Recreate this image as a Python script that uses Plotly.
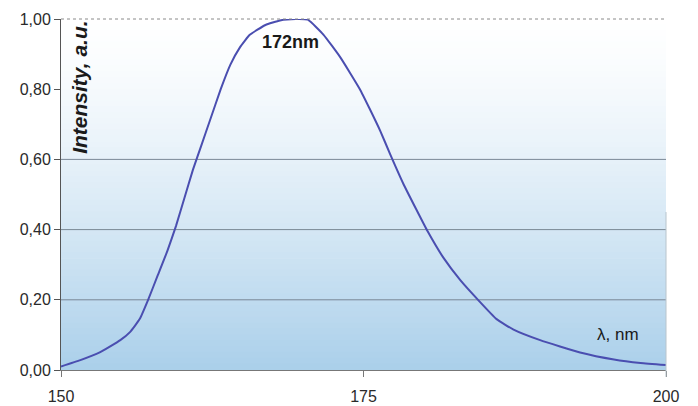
import plotly.graph_objects as go

# wavelength (nm) and normalized intensity
wavelength = [150.0, 151.6, 153.2, 154.9, 155.7, 156.5, 157.2, 158.0, 158.8, 159.5,
              160.2, 160.9, 161.6, 162.3, 163.2, 164.0, 164.8, 165.6, 166.9, 168.1,
              169.4, 170.4, 171.7, 173.1, 174.7, 175.5, 176.4, 177.2, 178.3, 179.4,
              180.3, 181.6, 183.0, 184.6, 186.0, 187.4, 189.6, 192.9, 195.7, 197.9,
              200.0]
intensity = [0.010, 0.028, 0.050, 0.085, 0.108, 0.145, 0.200, 0.270, 0.340, 0.410,
             0.490, 0.570, 0.640, 0.710, 0.800, 0.870, 0.920, 0.955, 0.983, 0.996,
             1.000, 0.998, 0.955, 0.890, 0.800, 0.745, 0.680, 0.615, 0.530, 0.455,
             0.395, 0.320, 0.256, 0.195, 0.145, 0.115, 0.085, 0.050, 0.030, 0.020,
             0.014]

x_ticks = [150, 175, 200]
y_ticks = [0.0, 0.2, 0.4, 0.6, 0.8, 1.0]
grid_values = [0.2, 0.4, 0.6]

peak_label = "172nm"
x_label = "λ, nm"
y_label = "Intensity, a.u."

fig = go.Figure()

# vertical gradient background (white top -> light blue bottom)
n = 60
top = (255, 255, 255)
bot = (170, 207, 234)
shapes = []
for i in range(n):
    t = ((i + 0.5) / n) ** 1.35  # 0 top .. 1 bottom
    c = tuple(int(round(top[k] + (bot[k] - top[k]) * t)) for k in range(3))
    y1 = 1 - i / n
    y0 = 1 - (i + 1) / n
    shapes.append(dict(type="rect", xref="x domain", yref="y domain",
                       x0=0, x1=1, y0=y0, y1=min(1, y1 + 0.002), layer="below",
                       line=dict(width=0), fillcolor="rgb(%d,%d,%d)" % c))
for g in grid_values:
    shapes.append(dict(type="line", xref="x domain", yref="y", x0=0, x1=1, y0=g, y1=g,
                       layer="below", line=dict(color="#7a8896", width=1)))
# top border (1,00) and right edge
shapes.append(dict(type="line", xref="x domain", yref="y domain", x0=0, x1=1, y0=1, y1=1,
                   line=dict(color="#8a8a8a", width=1, dash="dot")))
shapes.append(dict(type="line", xref="x domain", yref="y domain", x0=1, x1=1, y0=-0.02, y1=0.45,
                   line=dict(color="#b8c4cc", width=1)))

fig.add_trace(go.Scatter(x=wavelength, y=intensity, mode="lines",
                         line=dict(color="#4a4eb0", width=2, shape="spline", smoothing=0.4),
                         hoverinfo="x+y", showlegend=False))

fig.update_layout(
    width=690, height=398,
    margin=dict(l=53, r=32, t=11, b=36, autoexpand=False),
    paper_bgcolor="white", plot_bgcolor="white",
    separators=",.",
    font=dict(family="Liberation Sans, Arial, sans-serif", size=16, color="#2a2a2a"),
    shapes=shapes,
    xaxis=dict(range=[150, 200], tickvals=x_ticks, showgrid=False, zeroline=False,
               showline=True, linecolor="#777777", linewidth=1, automargin=False,
               ticks="outside", ticklen=6, tickcolor="#777777", ticklabelstandoff=6,
               tickfont=dict(size=16, color="#2a2a2a")),
    yaxis=dict(range=[0, 1.0], tickvals=y_ticks, tickformat=".2f", showgrid=False,
               zeroline=False, showline=True, linecolor="#555555", linewidth=1,
               automargin=False, ticks="outside", ticklen=6, tickcolor="#555555",
               tickfont=dict(size=16, color="#2a2a2a")),
    annotations=[
        dict(x=169.0, y=0.934, xref="x", yref="y", text="<b>" + peak_label + "</b>",
             showarrow=False, font=dict(size=18, color="#1a1a1a")),
        dict(x=196.0, y=0.10, xref="x", yref="y", text=x_label, showarrow=False,
             font=dict(size=17, color="#1a1a1a")),
        dict(x=0.008, y=1.0, xref="x domain", yref="y domain", text="<b><i>" + y_label + "</i></b>",
             textangle=-90, showarrow=False, xanchor="left", yanchor="top",
             font=dict(size=21, color="#1a1a1a")),
    ],
)

fig.write_html("out.html")
